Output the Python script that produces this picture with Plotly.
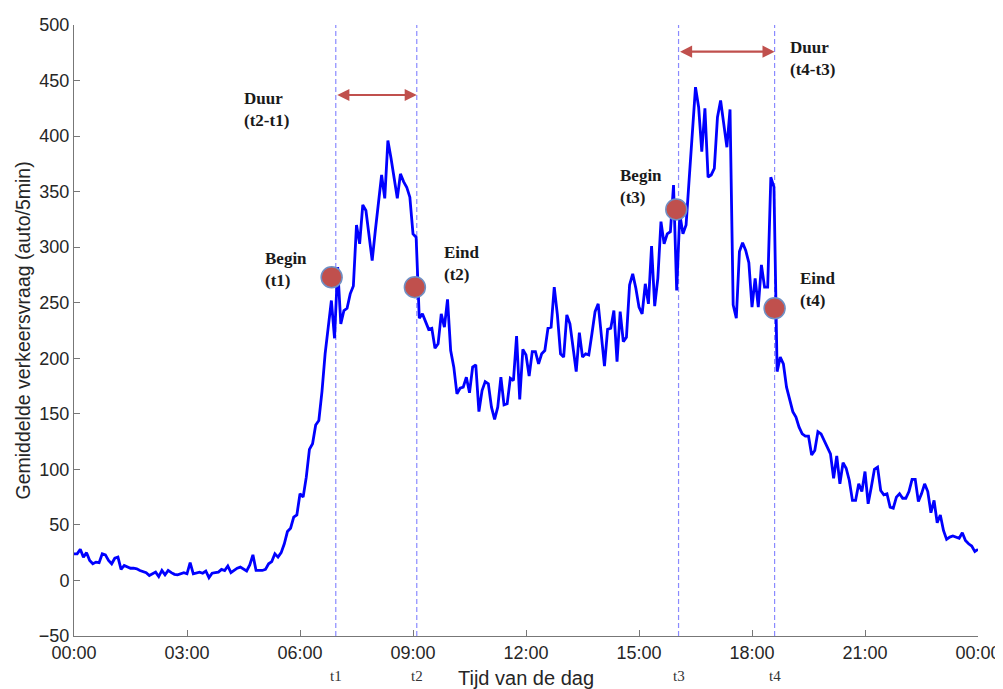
import plotly.graph_objects as go

# ---------------- data ----------------
tick_hours = [0, 3, 6, 9, 12, 15, 18, 21, 24]
tick_labels = ["00:00", "03:00", "06:00", "09:00", "12:00", "15:00", "18:00", "21:00", "00:00"]
y_ticks = [-50, 0, 50, 100, 150, 200, 250, 300, 350, 400, 450, 500]

# average traffic demand (cars / 5 min), one value every 5 minutes, per hour block
demand_h00 = [24, 24, 28, 21, 25, 18, 15, 16.5, 16, 24, 23, 18]
demand_h01 = [15, 20, 21, 10, 13.5, 12, 11, 11, 10.5, 9, 8, 7]
demand_h02 = [4.5, 6, 7.5, 3.5, 9, 5, 9, 7, 5.5, 5, 6, 7]
demand_h03 = [6, 16, 6, 6.5, 7.5, 6.5, 8.5, 2.5, 6.5, 7, 7.5, 10]
demand_h04 = [9, 13, 7, 9, 11, 12, 10, 8.5, 14, 23, 9, 9]
demand_h05 = [9, 10, 15, 17, 24, 21, 25, 33, 44, 47, 57, 59]
demand_h06 = [78, 75, 93, 118, 123, 140, 144, 170, 204, 228, 252, 218]
demand_h07 = [282, 231, 243, 245, 258, 265, 320, 303, 338, 333, 310, 288]
demand_h08 = [315, 340, 365, 344, 396, 380, 362, 344, 366, 359, 354, 345]
demand_h09 = [312, 309, 236, 240, 233, 226, 227, 209, 213, 240, 228, 253]
demand_h10 = [207, 192, 168, 173, 174, 183, 169, 192, 194, 152, 171, 179]
demand_h11 = [177, 156, 145, 156, 183, 158, 159, 182, 180, 220, 163, 208]
demand_h12 = [203, 184, 206, 206, 195, 204, 207, 227, 228, 264, 239, 204]
demand_h13 = [201, 239, 231, 210, 188, 223, 201, 204, 203, 222, 242, 249]
demand_h14 = [222, 193, 226, 227, 243, 197, 242, 215, 219, 266, 276, 263]
demand_h15 = [246, 240, 267, 249, 301, 247, 272, 323, 303, 312, 314, 356]
demand_h16 = [261, 330, 312, 320, 362, 403, 444, 426, 386, 425, 363, 365]
demand_h17 = [371, 417, 432, 411, 390, 424, 248, 236, 296, 304, 297, 286]
demand_h18 = [246, 272, 246, 284, 264, 264, 363, 354, 188, 201, 195, 174]
demand_h19 = [162, 152, 147, 138, 132, 130, 130, 113, 117, 134, 132, 126]
demand_h20 = [120, 114, 92, 112, 87, 106, 101, 90, 72, 72, 87, 80]
demand_h21 = [98, 69, 84, 100, 102, 81, 77, 78, 66, 65, 75, 78]
demand_h22 = [74, 74, 80, 91, 91, 71, 78, 87, 80, 61, 72, 52]
demand_h23 = [59, 45, 37, 39, 40, 39, 38, 43, 36, 33, 31, 26]
demand_h24 = [28]

demand = (demand_h00 + demand_h01 + demand_h02 + demand_h03 + demand_h04 + demand_h05
          + demand_h06 + demand_h07 + demand_h08 + demand_h09 + demand_h10 + demand_h11
          + demand_h12 + demand_h13 + demand_h14 + demand_h15 + demand_h16 + demand_h17
          + demand_h18 + demand_h19 + demand_h20 + demand_h21 + demand_h22 + demand_h23
          + demand_h24)
step_minutes = 5
hours = [i * step_minutes / 60 for i in range(len(demand))]

event_names = ["t1", "t2", "t3", "t4"]
event_hours = [6.95, 9.1, 16.05, 18.6]

marker_hours = [6.84, 9.05, 15.99, 18.6]
marker_values = [273, 264, 334, 245]
marker_texts = ["Begin<br>(t1)", "Eind<br>(t2)", "Begin<br>(t3)", "Eind<br>(t4)"]

duration_texts = ["Duur<br>(t2-t1)", "Duur<br>(t4-t3)"]
duration_levels = [437, 476]

# ---------------- styles / positions ----------------
SERIF = "Liberation Serif, DejaVu Serif, serif"
SANS = "Liberation Sans, Arial, Helvetica, sans-serif"
TXT = "#262626"
RED = "#c0504d"

marker_text_pos = [(5.02, 280), (9.76, 285), (14.43, 355), (19.23, 262)]
duration_text_pos = [(4.47, 424), (18.96, 470)]

fig = go.Figure()

fig.add_trace(go.Scatter(
    x=hours, y=demand, mode="lines",
    line=dict(color="#0000ff", width=2.8),
    hoverinfo="skip", showlegend=False,
))

fig.add_trace(go.Scatter(
    x=marker_hours, y=marker_values, mode="markers",
    marker=dict(size=21, color=RED, line=dict(color="#6f8fc4", width=1.5)),
    hoverinfo="skip", showlegend=False,
))

shapes = []
for h in event_hours:
    shapes.append(dict(
        type="line", xref="x", yref="y", x0=h, x1=h, y0=-50, y1=500,
        line=dict(color="#8a8aff", width=1.2, dash="5px,3px"), layer="below",
    ))

annotations = []
# duration arrows
pairs = [(event_hours[0], event_hours[1]), (event_hours[2], event_hours[3])]
for (a, b), lvl in zip(pairs, duration_levels):
    annotations.append(dict(
        x=b, y=lvl, ax=a, ay=lvl, xref="x", yref="y", axref="x", ayref="y",
        text="", showarrow=True, arrowhead=2, arrowsize=1.1, arrowwidth=2.2,
        arrowcolor=RED, arrowside="end+start", standoff=0, startstandoff=0,
    ))

for txt, (px, py) in zip(marker_texts + duration_texts, marker_text_pos + duration_text_pos):
    annotations.append(dict(
        x=px, y=py, xref="x", yref="y", text="<b>" + txt + "</b>", showarrow=False,
        xanchor="left", yanchor="middle", align="left",
        font=dict(family=SERIF, size=17, color="#1a1a1a"),
    ))

for name, h in zip(event_names, event_hours):
    annotations.append(dict(
        x=h, y=0, xref="x", yref="paper", yshift=-40, text=name, showarrow=False,
        xanchor="center", yanchor="middle",
        font=dict(family=SERIF, size=15, color="#333333"),
    ))

annotations.append(dict(
    x=0.5, y=0, xref="paper", yref="paper", yshift=-42, text="Tijd van de dag",
    showarrow=False, xanchor="center", yanchor="middle",
    font=dict(family=SANS, size=20, color=TXT),
))
annotations.append(dict(
    x=0, y=0.5, xref="paper", yref="paper", xshift=-52, text="Gemiddelde verkeersvraag (auto/5min)",
    showarrow=False, xanchor="center", yanchor="middle", textangle=-90,
    font=dict(family=SANS, size=19.5, color=TXT),
))

# the page body adds an 8px offset, so margins compensate for it
fig.update_layout(
    width=1003, height=689,
    margin=dict(l=66, r=33, t=17, b=61, autoexpand=False),
    paper_bgcolor="white", plot_bgcolor="white",
    shapes=shapes, annotations=annotations,
    xaxis=dict(
        range=[0, 24], tickvals=tick_hours, ticktext=tick_labels,
        ticks="inside", ticklen=6, tickcolor="#777777",
        showline=True, linecolor="#777777", linewidth=1,
        showgrid=False, zeroline=False, automargin=False,
        tickfont=dict(family=SANS, size=18, color=TXT),
    ),
    yaxis=dict(
        range=[-50, 500], tickvals=y_ticks,
        ticks="inside", ticklen=6, tickcolor="#777777",
        showline=True, linecolor="#777777", linewidth=1,
        showgrid=False, zeroline=False, automargin=False,
        tickfont=dict(family=SANS, size=18, color=TXT),
    ),
)

fig.write_html("out.html")
